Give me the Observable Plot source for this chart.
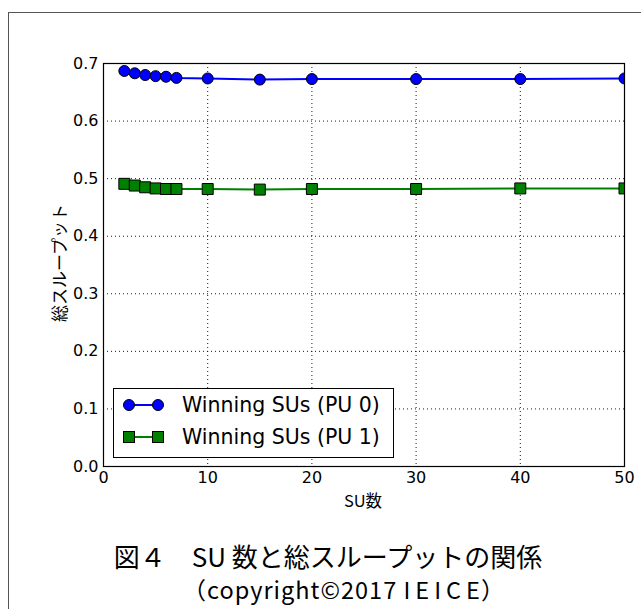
<!DOCTYPE html>
<html>
<head>
<meta charset="utf-8">
<script src="https://cdn.jsdelivr.net/npm/d3@7"></script>
<script src="https://cdn.jsdelivr.net/npm/@observablehq/plot@0.6"></script>
<style>
  html, body { margin: 0; padding: 0; background: #fff; }
  #wrap { position: relative; width: 641px; height: 609px; overflow: hidden; }
  #border { position: absolute; left: 8px; top: 12px; width: 700px; height: 700px;
            border-left: 1px solid #555; border-top: 1px solid #555; }
  #chart { position: absolute; left: 0; top: 0; }
  .lbl { position: absolute; font-family: "Noto Sans CJK JP", "DejaVu Sans", sans-serif; color: #000; white-space: nowrap; }
  #legend { position: absolute; left: 113px; top: 388px; width: 279px; height: 68px;
            border: 1px solid #000; background: #fff; font-family: "DejaVu Sans", sans-serif; font-size: 20.5px; }
  .entry { position: absolute; left: 0; height: 30px; display: flex; align-items: center; }
  .entry svg { margin-left: 7px; }
  .entry span { margin-left: 15px; }
</style>
</head>
<body>
<div id="wrap">
  <div id="border"></div>
  <div id="chart"></div>
  <div id="legend"></div>
  <div class="lbl" id="ylab" style="left:58px; top:263px; font-size:17px; transform: translate(-50%,-50%) rotate(-90deg);">総スループット</div>
  <div class="lbl" id="xlab" style="left:363px; top:500px; font-size:16.5px; transform: translate(-50%,-50%);">SU数</div>
  <div class="lbl" id="cap1" style="left:328px; top:555px; font-size:26px; transform: translate(-50%,-50%);">図４　SU 数と総スループットの関係</div>
  <div class="lbl" id="cap2" style="left:344px; top:589px; font-size:23.5px; letter-spacing:1px; transform: translate(-50%,-50%);">（copyright©2017 <span style="letter-spacing:5px">IEIC</span>E）</div>
</div>
<script>
const suCounts = [2, 3, 4, 5, 6, 7, 10, 15, 20, 30, 40, 50];
const pu0 = [0.687, 0.683, 0.680, 0.678, 0.677, 0.675, 0.674, 0.672, 0.673, 0.673, 0.673, 0.674];
const pu1 = [0.491, 0.488, 0.485, 0.483, 0.482, 0.482, 0.482, 0.481, 0.482, 0.482, 0.483, 0.483];
const seriesNames = ["Winning SUs (PU 0)", "Winning SUs (PU 1)"];
const xTicks = [0, 10, 20, 30, 40, 50];
const yTicks = [0.0, 0.1, 0.2, 0.3, 0.4, 0.5, 0.6, 0.7];

const d0 = suCounts.map((x, i) => ({x, y: pu0[i]}));
const d1 = suCounts.map((x, i) => ({x, y: pu1[i]}));

const font = "DejaVu Sans, sans-serif";
const plot = Plot.plot({
  width: 641,
  height: 520,
  marginLeft: 103,
  marginRight: 17,
  marginTop: 63,
  marginBottom: 54,
  style: {fontFamily: font, fontSize: "16px", color: "#000", background: "transparent"},
  x: {domain: [0, 50]},
  y: {domain: [0, 0.7]},
  marks: [
    Plot.gridX(xTicks, {stroke: "#000", strokeOpacity: 0.9, strokeWidth: 1, strokeDasharray: "1,3"}),
    Plot.gridY(yTicks, {stroke: "#000", strokeOpacity: 0.9, strokeWidth: 1, strokeDasharray: "1,3"}),
    Plot.axisX(xTicks, {anchor: "bottom", tickSize: 0, tickPadding: 5, label: null, fontSize: "16px", tickFormat: d3.format("d")}),
    Plot.axisY(yTicks, {anchor: "left", tickSize: 0, tickPadding: 5, label: null, fontSize: "16px", tickFormat: d3.format(".1f")}),
    Plot.line(d0, {x: "x", y: "y", stroke: "#0000ff", strokeWidth: 2, clip: "frame"}),
    Plot.dot(d0, {x: "x", y: "y", r: 5.5, fill: "#0000ff", stroke: "#000", strokeWidth: 1, clip: "frame"}),
    Plot.line(d1, {x: "x", y: "y", stroke: "#008000", strokeWidth: 2, clip: "frame"}),
    Plot.dot(d1, {x: "x", y: "y", symbol: "square", r: 6.2, fill: "#008000", stroke: "#000", strokeWidth: 1, clip: "frame"}),
    Plot.frame({stroke: "#000", strokeWidth: 1.2})
  ]
});
document.getElementById("chart").appendChild(plot);

// legend
const legend = document.getElementById("legend");
const styles = [
  {color: "#0000ff", shape: "circle"},
  {color: "#008000", shape: "square"}
];
seriesNames.forEach((name, i) => {
  const e = document.createElement("div");
  e.className = "entry";
  e.style.top = (i === 0 ? 1 : 33) + "px";
  const s = styles[i];
  const m = (cx) => s.shape === "circle"
    ? `<circle cx="${cx}" cy="15" r="5.5" fill="${s.color}" stroke="#000"/>`
    : `<rect x="${cx - 5.5}" y="9.5" width="11" height="11" fill="${s.color}" stroke="#000"/>`;
  e.innerHTML = `<svg width="46" height="30"><line x1="8" x2="37" y1="15" y2="15" stroke="${s.color}" stroke-width="2"/>${m(8)}${m(37)}</svg><span>${name}</span>`;
  legend.appendChild(e);
});
</script>
</body>
</html>
